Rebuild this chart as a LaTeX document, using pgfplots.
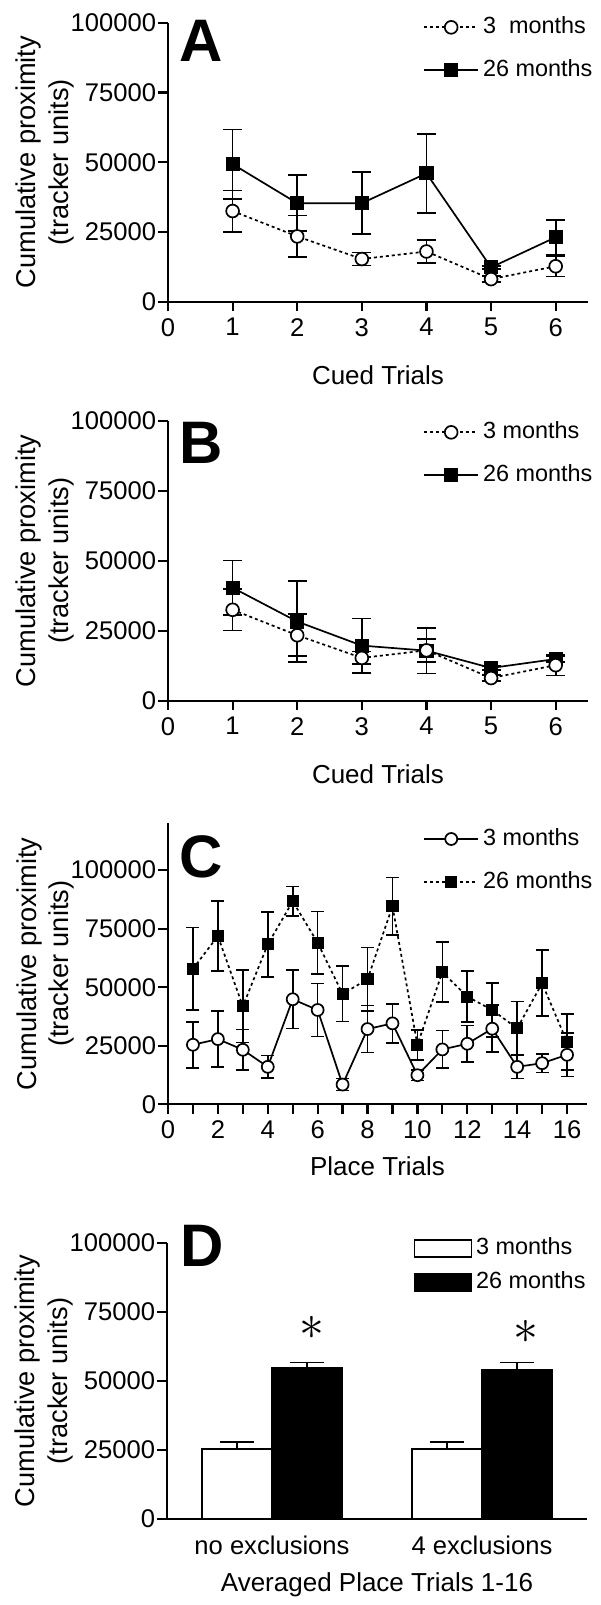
\documentclass[border=0pt]{standalone}
\usepackage{fontspec}
\setmainfont{Liberation Sans}
\usepackage{pgfplots}
\pgfplotsset{compat=1.18}
\newcommand{\tickfont}{\fontsize{12.8}{14}\selectfont}
\newcommand{\legfont}{\fontsize{11.7}{13}\selectfont}
\newcommand{\labfont}{\fontsize{13.6}{16.25}\selectfont}
\newcommand{\xlabfont}{\fontsize{13}{15}\selectfont}
\newcommand{\panelfont}{\fontsize{30}{30}\selectfont\bfseries}
\pgfplotsset{
  base/.style={
    scale only axis,
    width=210pt,
    axis lines*=left,
    axis line style={-, line width=1.1pt},
    tick style={black, line width=1.1pt},
    tick align=outside,
    major tick length=4.75pt,
    minor tick length=4.75pt,
    scaled x ticks=false,
    scaled y ticks=false,
    ymin=0,
    ytick={0,25000,50000,75000,100000},
    yticklabels={0,25000,50000,75000,100000},
    tick label style={font=\tickfont},
    yticklabel style={inner xsep=1pt},
    ylabel={Cumulative proximity\\(tracker units)},
    every axis y label/.style={at={(axis description cs:-0.293,0.5)}, rotate=90, anchor=center, align=center, font=\labfont},
    every axis x label/.style={at={(axis description cs:0.5,-0.262)}, anchor=center, font=\xlabfont},
    legend style={draw=none, fill=none, inner sep=0pt, column sep=2pt, row sep=10pt, font=\legfont,
      nodes={inner sep=0pt, text height=9pt, text depth=2.5pt}},
    legend cell align=left,
    clip=false,
  },
  linelegend/.style={legend image code/.code={\draw[mark repeat=2,mark phase=2,##1] plot coordinates {(0pt,0pt) (13.5pt,0pt) (27pt,0pt)};}},
  young/.style={black, line width=0.85pt, mark=*, mark size=3.2pt, mark options={solid, fill=white, line width=0.85pt}},
  old/.style={black, line width=0.85pt, mark=square*, mark size=3.1pt, mark options={solid, fill=black}},
  dots/.style={dash pattern=on 1.5pt off 1.5pt},
  ebars/.style={error bars/.cd, y dir=both, y explicit, error bar style={solid, line width=0.85pt}, error mark options={rotate=90, solid, line width=0.85pt, mark size=#1}},
}
\begin{document}
\begin{tikzpicture}
\path[use as bounding box] (0pt,0pt) rectangle (300pt,-802.5pt);

% ---------------- Panel A
\begin{axis}[base, at={(84pt,-150.85pt)}, anchor=south west, height=139.5pt,
  xmin=0, xmax=6.5, ymax=100000, xtick={0,...,6}, xticklabels={0,1,2,3,4,5,6},
  xlabel={Cued Trials}, linelegend, reverse legend,
  legend style={at={(0.607,1.026)}, anchor=north west}]
\addplot[old, ebars=4.75pt] coordinates {
 (1,49300) +- (0,12400)
 (2,35300) +- (0,10000)
 (3,35300) +- (0,11100)
 (4,46000) +- (0,14200)
 (5,12300) +- (0,600)
 (6,23100) +- (0,6200)
};
\addlegendentry{26 months}
\addplot[young, dots, ebars=4.75pt] coordinates {
 (1,32500) +- (0,7400)
 (2,23400) +- (0,7500)
 (3,15300) +- (0,2300)
 (4,18000) +- (0,4100)
 (5,8100) +- (0,1000)
 (6,12700) +- (0,3700)
};
\addlegendentry{3\ \ months}
\end{axis}

% ---------------- Panel B
\begin{axis}[base, at={(84pt,-350.35pt)}, anchor=south west, height=139.85pt,
  xmin=0, xmax=6.5, ymax=100000, xtick={0,...,6}, xticklabels={0,1,2,3,4,5,6},
  xlabel={Cued Trials}, linelegend, reverse legend,
  legend style={at={(0.607,1.002)}, anchor=north west}]
\addplot[old, ebars=4.75pt] coordinates {
 (1,40400) +- (0,9700)
 (2,28300) +- (0,14400)
 (3,19700) +- (0,9700)
 (4,17900) +- (0,8200)
 (5,11700) +- (0,600)
 (6,14900) +- (0,1000)
};
\addlegendentry{26 months}
\addplot[young, dots, ebars=4.75pt] coordinates {
 (1,32500) +- (0,7400)
 (2,23400) +- (0,7500)
 (3,15300) +- (0,2300)
 (4,18000) +- (0,4100)
 (5,8100) +- (0,1000)
 (6,12700) +- (0,3700)
};
\addlegendentry{3 months}
\end{axis}

% ---------------- Panel C
\begin{axis}[base, at={(84pt,-552.15pt)}, anchor=south west, width=209.5pt, height=140.5pt,
  xmin=0, xmax=16.8, ymax=120000, xtick={0,2,...,16}, xticklabels={0,2,4,6,8,10,12,14,16},
  minor xtick={1,3,...,15},
  xlabel={Place Trials}, every axis x label/.append style={at={(axis description cs:0.5,-0.222)}},
  linelegend, reverse legend,
  legend style={at={(0.6086,0.9865)}, anchor=north west, row sep=10.15pt}]
\addplot[old, dots, mark size=2.6pt, ebars=3.25pt] coordinates {
 (1,57860) +- (0,17710)
 (2,71860) +- (0,14930)
 (3,41860) +- (0,15430)
 (4,68290) +- (0,13930)
 (5,86710) +- (0,6290)
 (6,69000) +- (0,13360)
 (7,47140) +- (0,11790)
 (8,53430) +- (0,13570)
 (9,84570) +- (0,12290)
 (10,25430) +- (0,6430)
 (11,56430) +- (0,12790)
 (12,46000) +- (0,10930)
 (13,40290) +- (0,11570)
 (14,32430) +- (0,11430)
 (15,51710) +- (0,14070)
 (16,26570) +- (0,12000)
};
\addlegendentry{26 months}
\addplot[young, mark size=3pt, ebars=3.25pt] coordinates {
 (1,25430) +- (0,9860)
 (2,27860) +- (0,11860)
 (3,23290) +- (0,8600)
 (4,16000) +- (0,4790)
 (5,44860) +- (0,12430)
 (6,40290) +- (0,11290)
 (7,8430) +- (0,2570)
 (8,32140) +- (0,10000)
 (9,34570) +- (0,8360)
 (10,12430) +- (0,2290)
 (11,23430) +- (0,8070)
 (12,25860) +- (0,7860)
 (13,32290) +- (0,10000)
 (14,16000) +- (0,4930)
 (15,17570) +- (0,3930)
 (16,21140) +- (0,9290)
};
\addlegendentry{3 months}
\end{axis}

% ---------------- Panel D
\begin{axis}[base, at={(83.5pt,-759.5pt)}, anchor=south west, height=138pt,
  xmin=0.5, xmax=2.5, ymax=100000, xtick={1,2}, xticklabels={no exclusions,4 exclusions},
  xtick style={draw=none},
  xlabel={Averaged Place Trials 1-16},
  every axis x label/.append style={at={(axis description cs:0.5,-0.239)}},
  legend image code/.code={\draw[#1] (0pt,-4.25pt) rectangle (28.5pt,4.25pt);},
  legend style={at={(0.586,1.024)}, anchor=north west, row sep=5.5pt}]
\addplot[ybar, bar width=0.3333, bar shift=0pt, fill=white, draw=black, line width=0.85pt,
  error bars/.cd, y dir=plus, y explicit, error bar style={line width=0.85pt},
  error mark options={rotate=90, line width=0.85pt, mark size=8.7pt}]
  coordinates {(0.8333,25250) +- (0,2670) (1.8333,25250) +- (0,2670)};
\addlegendentry{3 months}
\addplot[ybar, bar width=0.3333, bar shift=0pt, fill=black, draw=black, line width=0.85pt,
  error bars/.cd, y dir=plus, y explicit, error bar style={line width=0.85pt},
  error mark options={rotate=90, line width=0.85pt, mark size=8.7pt}]
  coordinates {(1.1667,54760) +- (0,1950) (2.1667,54030) +- (0,2700)};
\addlegendentry{26 months}
\node[font=\fontsize{23}{23}\selectfont, inner sep=0pt] at (axis cs:1.19,69100) {$\ast$};
\node[font=\fontsize{23}{23}\selectfont, inner sep=0pt] at (axis cs:2.21,67860) {$\ast$};
\end{axis}

% panel letters
\node[anchor=north west, inner sep=0pt, font=\panelfont] at (89.5pt,-10pt) {A};
\node[anchor=north west, inner sep=0pt, font=\panelfont] at (89.5pt,-211pt) {B};
\node[anchor=north west, inner sep=0pt, font=\panelfont] at (89.5pt,-417.5pt) {C};
\node[anchor=north west, inner sep=0pt, font=\panelfont] at (90pt,-612.5pt) {D};
\end{tikzpicture}
\end{document}
